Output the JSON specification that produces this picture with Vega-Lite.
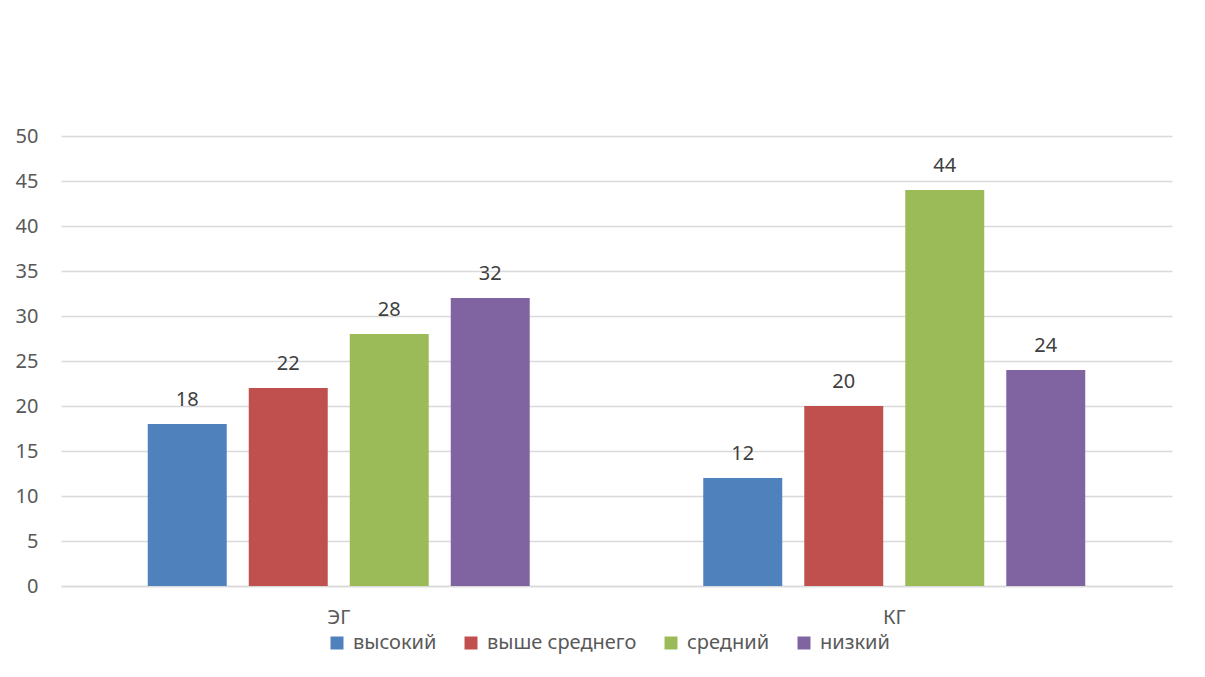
{
  "$schema": "https://vega.github.io/schema/vega-lite/v6.json",
  "width": 1111,
  "height": 450,
  "autosize": {"type": "none"},
  "padding": {"left": 61, "top": 136, "right": 33, "bottom": 91},
  "background": "white",
  "config": {
    "view": {"stroke": null},
    "font": "Noto Sans",
    "axis": {"labelFont": "Noto Sans", "labelColor": "#595959", "labelFontSize": 20, "gridColor": "#d9d9d9", "gridWidth": 1.5, "domainColor": "#d9d9d9", "domainWidth": 1.5, "ticks": false, "title": null}
  },
  "data": {
    "values": [
      {"group": "ЭГ", "level": "высокий", "value": 18},
      {"group": "ЭГ", "level": "выше среднего", "value": 22},
      {"group": "ЭГ", "level": "средний", "value": 28},
      {"group": "ЭГ", "level": "низкий", "value": 32},
      {"group": "КГ", "level": "высокий", "value": 12},
      {"group": "КГ", "level": "выше среднего", "value": 20},
      {"group": "КГ", "level": "средний", "value": 44},
      {"group": "КГ", "level": "низкий", "value": 24}
    ]
  },
  "encoding": {
    "x": {"field": "group", "type": "nominal", "sort": ["ЭГ", "КГ"], "scale": {"paddingInner": 0, "paddingOuter": 0}, "axis": {"labelAngle": 0, "labelPadding": 21, "domain": true, "grid": false}},
    "xOffset": {"field": "level", "type": "nominal", "sort": ["высокий", "выше среднего", "средний", "низкий"], "scale": {"paddingInner": 0.218, "paddingOuter": 0.859}},
    "y": {"field": "value", "type": "quantitative", "scale": {"domain": [0, 50]}, "axis": {"values": [0, 5, 10, 15, 20, 25, 30, 35, 40, 45, 50], "domain": false, "grid": true, "labelPadding": 23}}
  },
  "layer": [
    {
      "mark": {"type": "bar"},
      "encoding": {
        "color": {"field": "level", "type": "nominal", "sort": ["высокий", "выше среднего", "средний", "низкий"],
          "scale": {"domain": ["высокий", "выше среднего", "средний", "низкий"], "range": ["#4F81BD", "#C0504D", "#9BBB59", "#8064A2"]},
          "legend": {"title": null, "orient": "none", "direction": "horizontal", "legendX": 266, "legendY": 497, "symbolType": "square", "symbolSize": 169, "symbolStrokeWidth": 0, "labelFontSize": 20, "labelColor": "#595959", "labelFont": "Noto Sans", "columnPadding": 24, "labelOffset": 6}}
      }
    },
    {
      "mark": {"type": "text", "baseline": "alphabetic", "dy": -18, "fontSize": 20, "color": "#404040"},
      "encoding": {"text": {"field": "value", "type": "quantitative"}}
    }
  ]
}
